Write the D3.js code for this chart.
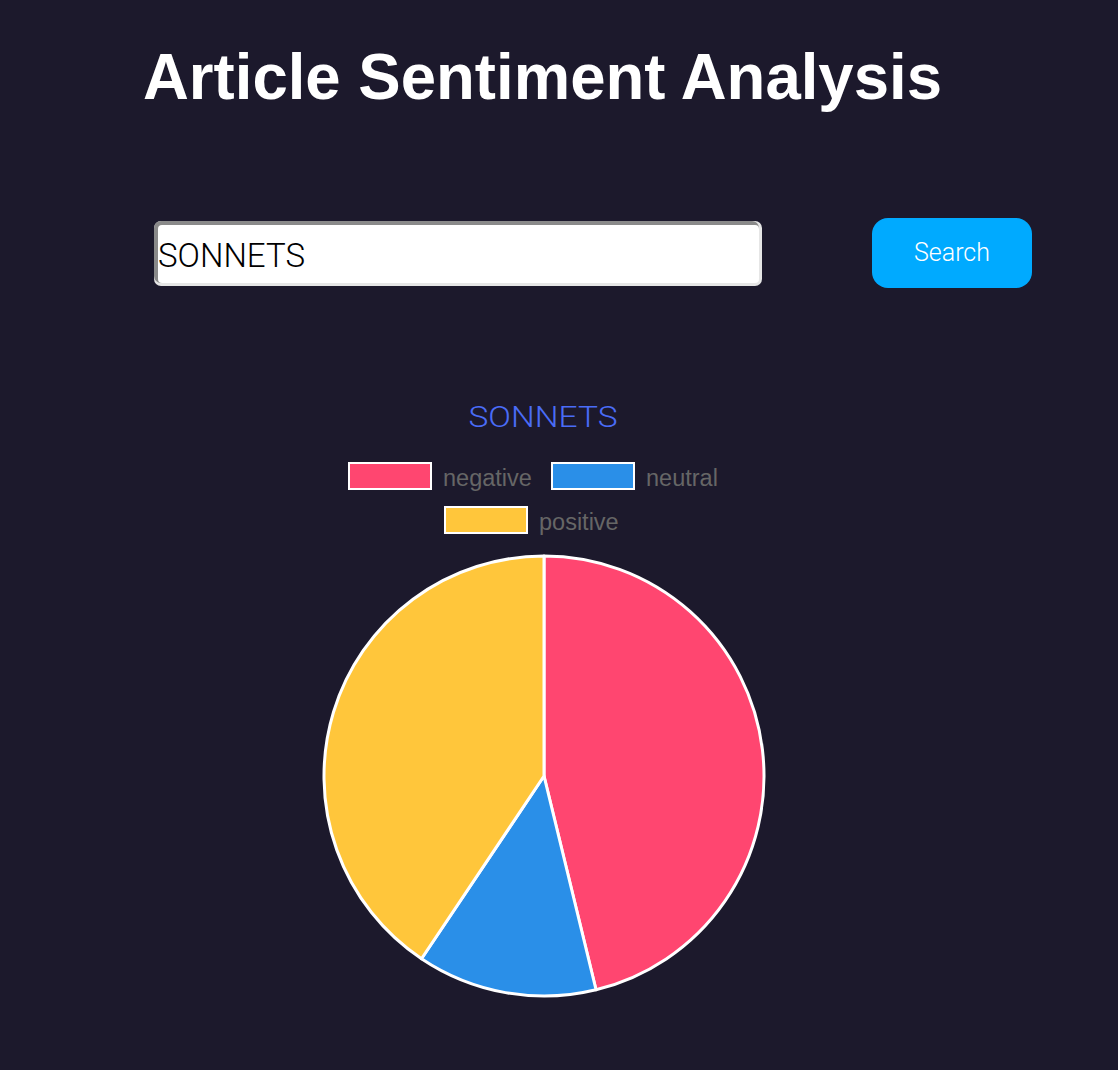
<!DOCTYPE html>
<html><head><meta charset="utf-8">
<script src="https://cdn.jsdelivr.net/npm/d3@7"></script>
<style>html,body{margin:0;padding:0;background:#1c192c;}svg{display:block}</style>
</head><body>
<svg id="c" width="1118" height="1070"></svg>
<script>
const title = "Article Sentiment Analysis";
const query = "SONNETS";
const categories = ["negative", "neutral", "positive"];
const values = [46.2, 13.2, 40.6];
const colors = ["#ff4670", "#2a8fe8", "#ffc63b"];

const svg = d3.select("#c");
svg.append("rect").attr("width",1118).attr("height",1070).attr("fill","#1c192c");

svg.append("text").attr("x",143).attr("y",99).text(title)
  .attr("font-family","Liberation Sans, Arial, sans-serif").attr("font-weight","bold")
  .attr("font-size",64).attr("fill","#fff").attr("textLength",799).attr("lengthAdjust","spacingAndGlyphs");

// input box
const ib = svg.append("g");
ib.append("rect").attr("x",154).attr("y",221).attr("width",608).attr("height",65).attr("rx",7).attr("fill","#e6e6e6");
ib.append("rect").attr("x",154).attr("y",221).attr("width",605).attr("height",62).attr("rx",7).attr("fill","#8a8a8a");
ib.append("rect").attr("x",158).attr("y",225).attr("width",601).attr("height",58).attr("rx",4).attr("fill","#fff");
ib.append("text").attr("x",158).attr("y",267).text(query)
  .attr("font-family","Roboto, sans-serif").attr("font-weight",300).attr("font-size",34)
  .attr("fill","#000").attr("textLength",147).attr("lengthAdjust","spacingAndGlyphs");

// button
svg.append("rect").attr("x",872).attr("y",218).attr("width",160).attr("height",70).attr("rx",16).attr("fill","#00aaff");
svg.append("text").attr("x",952).attr("y",261).attr("text-anchor","middle").text("Search")
  .attr("font-family","Roboto, sans-serif").attr("font-weight",300).attr("font-size",25).attr("fill","#fff");

// chart title
svg.append("text").attr("x",543).attr("y",427).attr("text-anchor","middle").text(query)
  .attr("font-family","Roboto, sans-serif").attr("font-weight",300).attr("font-size",30)
  .attr("fill","#4a6cf7").attr("textLength",149).attr("lengthAdjust","spacingAndGlyphs");

// legend
const legPos = [[348,462],[551,462],[444,506]];
const lg = svg.append("g");
categories.forEach((c,i)=>{
  const [x,y]=legPos[i];
  lg.append("rect").attr("x",x+1).attr("y",y+1).attr("width",82).attr("height",26)
    .attr("fill",colors[i]).attr("stroke","#fff").attr("stroke-width",2);
  lg.append("text").attr("x",x+95).attr("y",y+24).text(c)
    .attr("font-family","Liberation Sans, Arial, sans-serif").attr("font-size",23.5).attr("fill","#666");
});

// pie
const cx=544, cy=776, r=220;
const pie = d3.pie().sort(null).value(d=>d)(values);
const arc = d3.arc().innerRadius(0).outerRadius(r);
svg.append("g").attr("transform",`translate(${cx},${cy})`)
  .selectAll("path").data(pie).join("path")
  .attr("d",arc).attr("fill",(d,i)=>colors[i]).attr("stroke","#fff").attr("stroke-width",3).attr("stroke-linejoin","round");
</script>
</body></html>
